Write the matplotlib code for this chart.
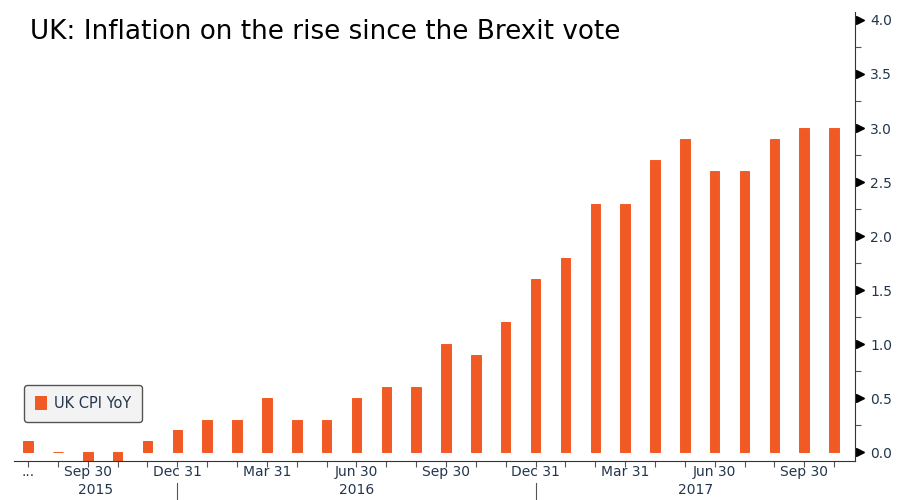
import matplotlib
matplotlib.use('Agg')

import matplotlib.pyplot as plt
from matplotlib.patches import Patch
import numpy as np

# UK CPI YoY, monthly Jul 2015 .. Oct 2017
months = ["Jul 2015", "Aug 2015", "Sep 2015", "Oct 2015", "Nov 2015", "Dec 2015",
          "Jan 2016", "Feb 2016", "Mar 2016", "Apr 2016", "May 2016", "Jun 2016",
          "Jul 2016", "Aug 2016", "Sep 2016", "Oct 2016", "Nov 2016", "Dec 2016",
          "Jan 2017", "Feb 2017", "Mar 2017", "Apr 2017", "May 2017", "Jun 2017",
          "Jul 2017", "Aug 2017", "Sep 2017", "Oct 2017"]
cpi = [0.1, 0.0, -0.1, -0.1, 0.1, 0.2,
       0.3, 0.3, 0.5, 0.3, 0.3, 0.5,
       0.6, 0.6, 1.0, 0.9, 1.2, 1.6,
       1.8, 2.3, 2.3, 2.7, 2.9, 2.6,
       2.6, 2.9, 3.0, 3.0]

tick_idx = [0, 2, 5, 8, 11, 14, 17, 20, 23, 26]
tick_labels = ["...", "Sep 30", "Dec 31", "Mar 31", "Jun 30", "Sep 30",
               "Dec 31", "Mar 31", "Jun 30", "Sep 30"]
year_breaks = [5, 17]
years = ["2015", "2016", "2017"]

bar_color = "#f15a24"
label_color = "#23364d"

fig = plt.figure(figsize=(8.97, 5.0), dpi=100)
ax = fig.add_axes([0.0156, 0.078, 0.9376, 0.898])

x = np.arange(len(cpi))
ax.bar(x, cpi, width=0.32, color=bar_color, edgecolor=bar_color,
       linewidth=0.7, zorder=2)

xmin, xmax = -0.47, 27.7
ax.set_xlim(xmin, xmax)
ax.set_ylim(-0.083, 4.074)

for s in ["left", "top"]:
    ax.spines[s].set_visible(False)
ax.spines["bottom"].set_color("#333333")
ax.spines["right"].set_color("#333333")

# x axis: tick at every month, labels quarterly
ax.set_xticks(x)
ax.set_xticklabels([""] * len(x))
ax.tick_params(axis="x", direction="out", length=4, color="#555555", width=0.8)
for i, lab in zip(tick_idx, tick_labels):
    ax.text(i, -0.009, lab, transform=ax.get_xaxis_transform(), ha="center",
            va="top", fontsize=10, color=label_color, clip_on=False)

# year separators and year labels
for b in year_breaks:
    ax.plot([b, b], [-0.048, -0.09], transform=ax.get_xaxis_transform(),
            color="#555555", lw=0.8, clip_on=False)
edges = [xmin] + year_breaks + [xmax]
for yr, a, b in zip(years, edges[:-1], edges[1:]):
    ax.text((a + b) / 2, -0.05, yr, transform=ax.get_xaxis_transform(),
            ha="center", va="top", fontsize=10, color=label_color)

# y axis on right with triangle markers
yt = np.arange(0, 4.01, 0.5)
ax.yaxis.tick_right()
ax.set_yticks(yt)
ax.set_yticklabels([f"{v:.1f}" for v in yt])
ax.set_yticks(np.arange(0.25, 4.0, 0.5), minor=True)
ax.tick_params(axis="y", which="major", length=0, pad=11, labelsize=10,
               labelcolor=label_color)
ax.tick_params(axis="y", which="minor", direction="out", length=4,
               color="#555555", width=0.8)
ax.plot(np.full(len(yt), 1.0065), yt, transform=ax.get_yaxis_transform(),
        marker=">", ms=6, color="black", ls="none", clip_on=False)

# legend
handle = Patch(facecolor=bar_color, edgecolor="none", label="UK CPI YoY")
leg = ax.legend(handles=[handle], loc="lower left",
                bbox_to_anchor=(0.012, 0.087), borderaxespad=0,
                fontsize=10.5, fancybox=True, framealpha=1,
                facecolor="#f3f3f3", edgecolor="#555555",
                handlelength=0.8, handleheight=1.1, handletextpad=0.5,
                borderpad=0.75)
leg.get_frame().set_linewidth(1.0)
for t in leg.get_texts():
    t.set_color(label_color)

fig.text(0.033, 0.936, "UK: Inflation on the rise since the Brexit vote",
         fontsize=18.9, va="center", ha="left", color="black")

fig.savefig("out.png", dpi=100)
plt.close(fig)
